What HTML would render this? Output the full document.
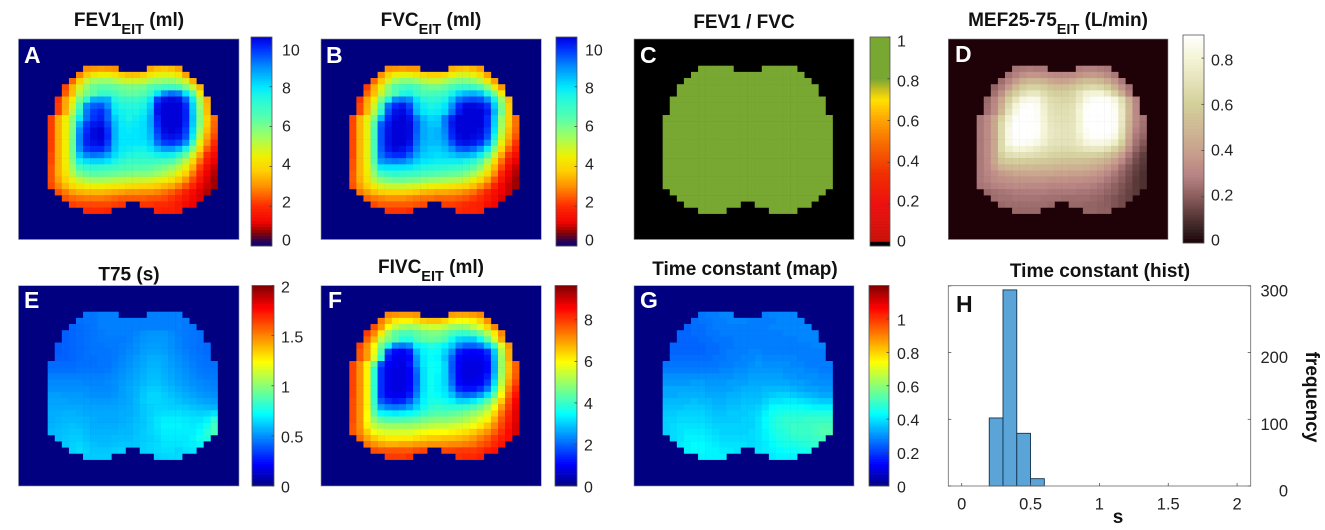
<!DOCTYPE html>
<html lang="en">
<head>
<meta charset="utf-8">
<title>EIT lung function maps</title>
<style>
html,body{margin:0;padding:0;background:#fff;width:1325px;height:530px;overflow:hidden}
svg{display:block;filter:blur(0.35px)}
text{font-family:"Liberation Sans",sans-serif;fill:#222}
.title{font-size:19px;font-weight:bold;fill:#111;text-anchor:middle}
.sub{font-size:14.5px}
.letter{font-size:23px;font-weight:bold;fill:#fff}
.tick{font-size:16px}
.hist-tick{font-size:16.5px}
</style>
</head>
<body>
<svg id="chart" xmlns="http://www.w3.org/2000/svg" width="1325" height="530" viewBox="0 0 1325 530">
  <rect width="1325" height="530" fill="#fff"/>
  <g id="panel-a"></g>
  <g id="panel-b"></g>
  <g id="panel-c"></g>
  <g id="panel-d"></g>
  <g id="panel-e"></g>
  <g id="panel-f"></g>
  <g id="panel-g"></g>
  <g id="panel-h"></g>

  <text class="title" x="129" y="26">FEV1<tspan class="sub" dy="8">EIT</tspan><tspan dy="-8"> (ml)</tspan></text>
  <text class="title" x="431" y="26">FVC<tspan class="sub" dy="8">EIT</tspan><tspan dy="-8"> (ml)</tspan></text>
  <text class="title" x="744" y="28">FEV1 / FVC</text>
  <text class="title" x="1058" y="26">MEF25-75<tspan class="sub" dy="8">EIT</tspan><tspan dy="-8"> (L/min)</tspan></text>
  <text class="title" x="129" y="280.5">T75 (s)</text>
  <text class="title" x="431" y="273">FIVC<tspan class="sub" dy="8">EIT</tspan><tspan dy="-8"> (ml)</tspan></text>
  <text class="title" x="745" y="275">Time constant (map)</text>
  <text class="title" x="1100" y="277">Time constant (hist)</text>

  <text class="letter" x="24" y="63">A</text>
  <text class="letter" x="326" y="63">B</text>
  <text class="letter" x="640" y="63">C</text>
  <text class="letter" x="955" y="62">D</text>
  <text class="letter" x="24" y="308">E</text>
  <text class="letter" x="328" y="308">F</text>
  <text class="letter" x="640" y="308">G</text>
  <text class="letter" x="956" y="312" style="fill:#111">H</text>

  <text class="title" x="1118" y="523">s</text>
  <text class="title" transform="translate(1306 397) rotate(90)">frequency</text>
</svg>

<script>
// Panel A: FEV1 (ml)
const fev1Values = [
[0,0,0,0,0,3,3.1,3.2,3.1,3,0,0,0,0,3.3,3.6,3.7,3.6,3.3,0,0,0,0,0],
[0,0,0,0,2.9,3.7,4.3,4.5,4.5,4.2,3.8,3.6,3.6,3.8,4.3,4.6,4.7,4.6,4.3,3.2,0,0,0,0],
[0,0,0,2.6,3.9,5,5.5,5.6,5.6,5.4,5,4.9,4.9,5,5.4,5.6,5.7,5.7,5.4,4.8,3.4,0,0,0],
[0,0,2.3,3.5,4.8,5.7,6.2,6.4,6.4,6.3,6.1,6,6,6.1,6.5,6.7,6.9,6.9,6.7,6,5,3.5,0,0],
[0,0,2.5,3.6,5.3,6,6.4,7,7,6.8,6.4,6.3,6.3,6.5,7,8,9,9.3,9.1,8,6.5,4.4,0,0],
[0,2.1,3.3,4.5,6,7.2,8.6,8.7,8.6,7.5,7.1,7,7,7.2,7.9,9.8,10.3,10.4,10.3,9.5,7.8,5.3,3.4,0],
[0,2.2,3.3,4.8,6.7,9,9.5,9.6,9,7.8,7.5,7.4,7.4,7.6,8.3,10.2,10.5,10.5,10.5,10,8.2,5.6,3.5,0],
[0,2.2,3.4,5.2,7.2,9.2,9.8,10,9.4,8,7.7,7.6,7.6,7.8,8.5,10.3,10.5,10.5,10.5,10.1,8.3,5.8,3.6,0],
[2.2,3.4,4.5,5.8,7.8,9.3,9.9,10.1,9.4,8.3,7.8,7.6,7.8,8,8.7,10.1,10.5,10.5,10.5,10.1,8.4,5.9,3.9,2.7],
[2.2,3.4,4.5,5.9,8.6,9.8,10.2,10.3,9.7,8.5,7.9,7.8,7.9,8.1,8.7,10,10.5,10.5,10.5,10,8.3,5.8,3.8,2.6],
[2.2,3.4,4.5,6,9,10,10.4,10.5,9.9,8.6,8,7.9,8,8.1,8.6,9.8,10.4,10.5,10.4,9.8,8.1,5.5,3.6,2.5],
[2.2,3.4,4.5,6.1,9.1,10.1,10.4,10.5,10,8.6,8,8,8,8.1,8.5,9.6,10.2,10.3,10.2,9.6,7.8,5.1,3.3,2.3],
[2.2,3.4,4.5,6.2,9.1,10.1,10.3,10.4,9.8,8.5,8,8,8,8,8.3,9.3,9.8,9.9,9.7,9,7,4.6,3,2],
[2.2,3.4,4.5,6.2,9,9.8,10,10,9.5,8.4,7.9,7.8,7.7,7.7,8,8.5,8.9,8.9,8.5,7.6,5.9,4,2.5,1.7],
[2.3,3.4,4.5,6.1,8.4,9.1,9.3,9.2,8.8,8.1,7.7,7.5,7.4,7.4,7.5,7.7,7.8,7.7,7.2,6.3,4.9,3.3,2,1.4],
[2.3,3.4,4.5,5.9,7.7,8.1,8.2,8.2,8,7.6,7.2,7,7,7,7,6.9,6.8,6.6,6.1,5.2,4,2.7,1.7,1.2],
[2.4,3.4,4.4,5.6,6.8,7.1,7.2,7.1,7,6.9,6.7,6.6,6.5,6.5,6.4,6.2,6,5.7,5.2,4.5,3.4,2.2,1.4,1],
[2.4,3.4,4.2,5.2,6,6.3,6.4,6.4,6.3,6.2,6.1,6,5.9,5.9,5.8,5.6,5.3,5,4.5,3.8,2.8,1.9,1.2,.9],
[2.4,3.2,3.9,4.6,5.1,5.4,5.5,5.5,5.4,5.3,5.2,5.1,5,5,4.9,4.7,4.5,4.2,3.7,3.1,2.3,1.6,1.1,.8],
[2.3,2.9,3.5,4,4.3,4.5,4.5,4.5,4.4,4.3,4.2,4.1,4,3.9,3.8,3.7,3.5,3.3,2.9,2.4,1.9,1.3,1,.8],
[0,2.4,2.8,3.2,3.4,3.5,3.5,3.5,3.4,3.3,3.2,3.1,3.1,3,3,2.9,2.7,2.5,2.2,1.8,1.4,1.1,.9,0],
[0,0,2.4,2.6,2.7,2.8,2.8,2.8,2.7,2.6,2.5,2.5,2.5,2.5,2.4,2.4,2.3,2.1,1.9,1.6,1.3,1.1,0,0],
[0,0,0,2.2,2.3,2.3,2.3,2.3,2.3,2.2,2.1,0,0,2.1,2.1,2,2,1.9,1.7,1.4,1.2,0,0,0],
[0,0,0,0,0,2,2,2,1.9,0,0,0,0,0,0,1.9,1.8,1.8,1.7,0,0,0,0,0]
];

// Panel B: FVC (ml)
const fvcValues = [
[0,0,0,0,0,3,3.1,3.2,3.1,3.1,0,0,0,0,3.4,3.6,3.7,3.5,3.2,0,0,0,0,0],
[0,0,0,0,3,3.9,4.5,4.6,4.6,4.3,4,3.8,3.8,4,4.5,4.8,4.8,4.6,4.1,3.2,0,0,0,0],
[0,0,0,2.6,3.7,4.8,5.5,5.8,5.8,5.6,5.2,5,5,5.3,5.7,5.9,5.9,5.7,5.2,4.3,3.2,0,0,0],
[0,0,2.2,3.4,4.6,5.8,6.5,6.8,6.9,6.7,6.3,6.1,6.1,6.3,6.7,7,7.1,7,6.6,5.8,4.4,3.1,0,0],
[0,0,2.6,3.6,5,6,6.6,7.5,7.6,7,6.7,6.7,6.8,7,7.6,8.2,8.5,8.6,8.4,7.5,6.1,4.4,0,0],
[0,2.1,3.3,4.5,6,7.5,9,9.2,9,8,7.4,7.2,7.3,7.6,8.4,9.3,9.6,9.7,9.6,9,7.7,5.6,3.6,0],
[0,2.3,3.4,4.9,6.8,9.3,10,10.2,9.7,8.4,7.8,7.6,7.7,8,9,10,10.4,10.4,10.3,9.9,8.3,6,3.8,0],
[0,2.3,3.5,5.3,7.3,9.6,10.3,10.4,10,8.6,8,7.8,7.9,8.2,9.3,10.2,10.5,10.5,10.5,10.2,8.6,6.1,3.9,0],
[2.3,3.5,4.6,6,8.5,10,10.4,10.5,10.3,9.3,8.5,8.2,8.3,9.2,10.1,10.5,10.5,10.5,10.5,10,8.3,5.6,3.9,2.7],
[2.3,3.5,4.6,6.5,9.5,10.2,10.5,10.5,10.4,9.5,8.7,8.4,8.4,9.2,10.2,10.5,10.5,10.5,10.5,10,8.2,5.5,3.8,2.7],
[2.3,3.5,4.6,6.7,9.6,10.3,10.5,10.5,10.4,9.5,8.7,8.5,8.6,9.1,10.1,10.5,10.5,10.5,10.4,9.8,8,5.3,3.6,2.6],
[2.3,3.5,4.6,6.7,9.6,10.3,10.5,10.5,10.4,9.4,8.7,8.5,8.6,9,10,10.4,10.5,10.4,10.3,9.6,7.6,5,3.4,2.4],
[2.3,3.5,4.6,6.7,9.6,10.3,10.5,10.5,10.3,9.3,8.6,8.5,8.5,8.8,9.6,10.2,10.3,10.2,9.9,9,6.9,4.6,3.1,2.1],
[2.3,3.5,4.6,6.7,9.5,10.2,10.4,10.3,10,9.1,8.5,8.3,8.3,8.5,9,9.5,9.6,9.4,8.9,7.8,5.9,4,2.6,1.8],
[2.3,3.5,4.6,6.6,9.3,9.8,10,10,9.5,8.8,8.3,8.2,8.1,8.2,8.4,8.6,8.6,8.4,7.8,6.7,5,3.3,2.1,1.5],
[2.4,3.5,4.6,6.5,8.9,9.1,9.2,9.1,8.8,8.3,8,7.9,7.8,7.8,7.8,7.8,7.6,7.3,6.6,5.5,4.1,2.7,1.7,1.2],
[2.4,3.5,4.5,6.1,7.9,8,8,8,7.9,7.7,7.5,7.4,7.3,7.2,7.1,7,6.8,6.4,5.8,4.8,3.5,2.3,1.4,1],
[2.5,3.5,4.4,5.7,6.8,7.1,7.2,7.1,7,6.9,6.7,6.6,6.5,6.4,6.3,6.2,5.9,5.5,4.9,4.1,3,1.9,1.2,.9],
[2.5,3.4,4.2,5.2,5.8,6.1,6.2,6.2,6.1,6,5.8,5.7,5.6,5.5,5.4,5.3,5,4.6,4,3.3,2.4,1.6,1.1,.8],
[2.4,3.2,3.8,4.4,4.8,5,5,5,4.9,4.8,4.7,4.5,4.4,4.3,4.2,4.1,3.9,3.6,3.1,2.6,1.9,1.3,1,.8],
[0,2.8,3.2,3.6,3.8,3.9,3.9,3.9,3.8,3.7,3.5,3.4,3.3,3.3,3.2,3.1,2.9,2.7,2.3,1.9,1.5,1.2,1,0],
[0,0,2.6,2.8,2.9,3,3,3,2.9,2.8,2.7,2.7,2.6,2.6,2.6,2.5,2.4,2.2,2,1.7,1.4,1.1,0,0],
[0,0,0,2.3,2.5,2.5,2.5,2.5,2.5,2.4,2.3,0,0,2.2,2.2,2.1,2,1.9,1.8,1.5,1.3,0,0,0],
[0,0,0,0,0,2.1,2.1,2.1,2,0,0,0,0,0,0,2,1.9,1.9,1.8,0,0,0,0,0]
];

// Panel C: FEV1 / FVC ratio
const ratioValues = [
[0,0,0,0,0,.9,.9,.9,.9,.9,0,0,0,0,.9,.9,.9,.9,.9,0,0,0,0,0],
[0,0,0,0,.9,.9,.9,.9,.9,.9,.9,.9,.9,.9,.9,.9,.9,.9,.9,.9,0,0,0,0],
[0,0,0,.9,.9,.9,.9,.9,.9,.9,.9,.9,.9,.9,.9,.9,.9,.9,.9,.9,.9,0,0,0],
[0,0,.9,.9,.9,.9,.9,.9,.9,.9,.9,.9,.9,.9,.9,.9,.9,.9,.9,.9,.9,.9,0,0],
[0,0,.9,.9,.9,.9,.9,.9,.9,.9,.9,.9,.9,.9,.9,.9,.9,.9,.9,.9,.9,.9,0,0],
[0,.9,.9,.9,.9,.9,.9,.9,.9,.9,.9,.9,.9,.9,.9,.9,.9,.9,.9,.9,.9,.9,.9,0],
[0,.9,.9,.9,.9,.9,.9,.9,.9,.9,.9,.9,.9,.9,.9,.9,.9,.9,.9,.9,.9,.9,.9,0],
[0,.9,.9,.9,.9,.9,.9,.9,.9,.9,.9,.9,.9,.9,.9,.9,.9,.9,.9,.9,.9,.9,.9,0],
[.9,.9,.9,.9,.9,.9,.9,.9,.9,.9,.9,.9,.9,.9,.9,.9,.9,.9,.9,.9,.9,.9,.9,.9],
[.9,.9,.9,.9,.9,.9,.9,.9,.9,.9,.9,.9,.9,.9,.9,.9,.9,.9,.9,.9,.9,.9,.9,.9],
[.9,.9,.9,.9,.9,.9,.9,.9,.9,.9,.9,.9,.9,.9,.9,.9,.9,.9,.9,.9,.9,.9,.9,.9],
[.9,.9,.9,.9,.9,.9,.9,.9,.9,.9,.9,.9,.9,.9,.9,.9,.9,.9,.9,.9,.9,.9,.9,.9],
[.9,.9,.9,.9,.9,.9,.9,.9,.9,.9,.9,.9,.9,.9,.9,.9,.9,.9,.9,.9,.9,.9,.9,.9],
[.9,.9,.9,.9,.9,.9,.9,.9,.9,.9,.9,.9,.9,.9,.9,.9,.9,.9,.9,.9,.9,.9,.9,.9],
[.9,.9,.9,.9,.9,.9,.9,.9,.9,.9,.9,.9,.9,.9,.9,.9,.9,.9,.9,.9,.9,.9,.9,.9],
[.9,.9,.9,.9,.9,.9,.9,.9,.9,.9,.9,.9,.9,.9,.9,.9,.9,.9,.9,.9,.9,.9,.9,.9],
[.9,.9,.9,.9,.9,.9,.9,.9,.9,.9,.9,.9,.9,.9,.9,.9,.9,.9,.9,.9,.9,.9,.9,.9],
[.9,.9,.9,.9,.9,.9,.9,.9,.9,.9,.9,.9,.9,.9,.9,.9,.9,.9,.9,.9,.9,.9,.9,.9],
[.9,.9,.9,.9,.9,.9,.9,.9,.9,.9,.9,.9,.9,.9,.9,.9,.9,.9,.9,.9,.9,.9,.9,.9],
[.9,.9,.9,.9,.9,.9,.9,.9,.9,.9,.9,.9,.9,.9,.9,.9,.9,.9,.9,.9,.9,.9,.9,.9],
[0,.9,.9,.9,.9,.9,.9,.9,.9,.9,.9,.9,.9,.9,.9,.9,.9,.9,.9,.9,.9,.9,.9,0],
[0,0,.9,.9,.9,.9,.9,.9,.9,.9,.9,.9,.9,.9,.9,.9,.9,.9,.9,.9,.9,.9,0,0],
[0,0,0,.9,.9,.9,.9,.9,.9,.9,.9,0,0,.9,.9,.9,.9,.9,.9,.9,.9,0,0,0],
[0,0,0,0,0,.9,.9,.9,.9,0,0,0,0,0,0,.9,.9,.9,.9,0,0,0,0,0]
];

// Panel D: MEF25-75 (L/min)
const mefValues = [
[0,0,0,0,0,.26,.27,.28,.27,.27,0,0,0,0,.28,.29,.29,.28,.27,0,0,0,0,0],
[0,0,0,0,.25,.29,.34,.36,.36,.34,.32,.31,.31,.32,.35,.37,.38,.36,.32,.27,0,0,0,0],
[0,0,0,.24,.3,.38,.46,.5,.5,.47,.43,.41,.41,.44,.49,.52,.52,.5,.44,.36,.27,0,0,0],
[0,0,.22,.28,.38,.5,.58,.62,.62,.59,.54,.53,.53,.55,.6,.64,.66,.64,.58,.47,.35,.26,0,0],
[0,0,.25,.34,.5,.6,.68,.73,.73,.67,.62,.6,.6,.63,.71,.78,.8,.8,.74,.62,.45,.29,0,0],
[0,.23,.3,.42,.6,.72,.82,.85,.84,.74,.67,.65,.64,.66,.74,.84,.88,.89,.88,.82,.68,.47,.3,0],
[0,.24,.31,.46,.66,.8,.88,.89,.87,.77,.69,.67,.67,.69,.78,.88,.9,.9,.9,.86,.72,.5,.31,0],
[0,.25,.32,.5,.71,.84,.9,.9,.88,.79,.71,.68,.68,.7,.8,.89,.9,.9,.9,.88,.74,.51,.31,0],
[.27,.32,.42,.62,.78,.88,.9,.9,.88,.8,.72,.7,.69,.71,.8,.89,.9,.9,.9,.88,.74,.5,.32,.26],
[.27,.32,.42,.65,.82,.9,.9,.9,.89,.81,.73,.71,.7,.72,.8,.89,.9,.9,.9,.88,.73,.48,.31,.25],
[.27,.32,.42,.66,.84,.9,.9,.9,.89,.81,.74,.72,.71,.72,.8,.88,.9,.9,.9,.87,.71,.46,.29,.24],
[.27,.32,.42,.66,.84,.89,.9,.9,.88,.8,.74,.72,.71,.72,.78,.86,.89,.89,.88,.84,.68,.43,.27,.22],
[.27,.32,.42,.66,.83,.88,.88,.87,.84,.78,.72,.71,.7,.71,.75,.81,.84,.84,.82,.76,.61,.39,.25,.19],
[.27,.32,.42,.65,.76,.8,.8,.78,.75,.71,.68,.67,.66,.67,.69,.72,.73,.73,.69,.62,.5,.33,.22,.16],
[.27,.32,.42,.61,.68,.7,.7,.69,.67,.65,.63,.62,.61,.61,.62,.62,.62,.6,.55,.49,.39,.27,.18,.13],
[.27,.32,.42,.55,.59,.6,.6,.59,.58,.57,.56,.55,.54,.54,.54,.53,.51,.49,.45,.39,.31,.23,.16,.12],
[.27,.31,.39,.47,.5,.51,.51,.51,.5,.5,.49,.48,.48,.47,.47,.46,.44,.41,.37,.32,.25,.19,.14,.11],
[.27,.3,.34,.38,.4,.42,.42,.43,.43,.42,.42,.41,.41,.4,.4,.39,.37,.35,.31,.27,.22,.17,.13,.1],
[.27,.29,.32,.34,.35,.36,.36,.36,.36,.36,.35,.35,.35,.34,.34,.33,.32,.3,.27,.24,.2,.16,.12,.1],
[.26,.27,.29,.3,.31,.32,.32,.31,.31,.31,.3,.3,.3,.3,.29,.29,.28,.26,.24,.21,.18,.15,.12,.1],
[0,.23,.25,.26,.27,.28,.28,.28,.28,.28,.27,.27,.27,.27,.26,.26,.25,.24,.22,.2,.17,.14,.12,0],
[0,0,.24,.25,.25,.26,.26,.26,.26,.25,.25,.25,.24,.24,.24,.24,.23,.22,.2,.18,.16,.14,0,0],
[0,0,0,.23,.24,.24,.24,.24,.24,.24,.23,0,0,.23,.23,.22,.22,.21,.2,.18,.16,0,0,0],
[0,0,0,0,0,.23,.23,.23,.23,0,0,0,0,0,0,.22,.22,.21,.21,0,0,0,0,0]
];

// Panel E: T75 (s)
const t75Values = [
[0,0,0,0,0,.45,.45,.47,.47,.47,0,0,0,0,.47,.47,.47,.47,.47,0,0,0,0,0],
[0,0,0,0,.44,.45,.45,.47,.47,.47,.47,.47,.47,.47,.47,.47,.47,.47,.47,.46,0,0,0,0],
[0,0,0,.42,.43,.44,.45,.47,.47,.47,.47,.47,.47,.47,.47,.47,.47,.47,.47,.46,.45,0,0,0],
[0,0,.41,.42,.43,.44,.45,.46,.47,.47,.47,.47,.48,.5,.51,.51,.51,.49,.47,.46,.45,.44,0,0],
[0,0,.41,.42,.43,.44,.45,.46,.46,.46,.46,.47,.49,.51,.52,.52,.52,.5,.48,.46,.45,.44,0,0],
[0,.4,.41,.42,.43,.44,.45,.45,.46,.46,.47,.48,.5,.52,.53,.53,.52,.5,.48,.46,.45,.44,.43,0],
[0,.4,.41,.42,.43,.44,.45,.45,.45,.46,.47,.49,.5,.53,.54,.54,.53,.51,.49,.47,.45,.44,.43,0],
[0,.41,.41,.42,.43,.44,.44,.45,.45,.46,.48,.5,.52,.54,.56,.56,.55,.52,.5,.48,.46,.45,.44,0],
[.43,.43,.43,.43,.44,.44,.44,.45,.45,.47,.49,.51,.53,.55,.57,.57,.55,.53,.51,.49,.47,.45,.44,.44],
[.44,.44,.44,.44,.45,.45,.45,.45,.46,.48,.5,.52,.54,.56,.58,.58,.56,.54,.52,.5,.48,.46,.45,.45],
[.47,.47,.47,.47,.47,.47,.47,.47,.48,.49,.51,.53,.55,.57,.59,.59,.57,.55,.53,.51,.49,.47,.46,.46],
[.49,.49,.49,.49,.49,.48,.48,.48,.49,.5,.52,.54,.56,.58,.6,.6,.58,.56,.54,.52,.5,.49,.48,.47],
[.5,.5,.5,.5,.5,.5,.49,.49,.49,.5,.53,.55,.57,.6,.62,.62,.6,.58,.56,.54,.52,.5,.49,.48],
[.53,.53,.52,.52,.52,.51,.5,.5,.5,.51,.53,.55,.57,.61,.64,.64,.62,.6,.58,.56,.54,.52,.51,.5],
[.54,.54,.54,.53,.53,.53,.52,.52,.52,.53,.54,.55,.58,.62,.64,.64,.63,.62,.6,.58,.57,.55,.54,.53],
[.55,.55,.55,.55,.55,.54,.54,.54,.54,.54,.55,.56,.58,.61,.63,.64,.64,.63,.63,.62,.6,.59,.58,.57],
[.56,.56,.57,.57,.56,.55,.55,.55,.55,.55,.56,.56,.58,.61,.63,.65,.66,.66,.66,.65,.64,.63,.64,.67],
[.56,.57,.58,.58,.58,.57,.56,.55,.55,.55,.56,.57,.59,.61,.64,.67,.69,.69,.69,.68,.67,.67,.7,.8],
[.57,.58,.59,.6,.59,.58,.56,.56,.56,.56,.57,.58,.6,.61,.64,.67,.7,.7,.7,.69,.68,.7,.75,.85],
[.58,.59,.6,.61,.61,.59,.57,.57,.57,.57,.58,.58,.6,.62,.64,.66,.69,.69,.69,.69,.69,.72,.8,.85],
[0,.59,.61,.62,.62,.6,.58,.58,.58,.59,.59,.59,.61,.62,.63,.65,.68,.68,.68,.68,.7,.75,.78,0],
[0,0,.61,.63,.64,.62,.6,.59,.59,.6,.61,.61,.61,.63,.64,.65,.67,.67,.67,.68,.69,.71,0,0],
[0,0,0,.63,.65,.63,.61,.61,.61,.62,.63,0,0,.63,.64,.65,.66,.66,.64,.66,.67,0,0,0],
[0,0,0,0,0,.62,.62,.62,.62,0,0,0,0,0,0,.63,.64,.65,.65,0,0,0,0,0]
];

// Panel F: FIVC (ml)
const fivcValues = [
[0,0,0,0,0,7.2,7.1,7,7,7.1,0,0,0,0,7,6.9,6.9,7,7.2,0,0,0,0,0],
[0,0,0,0,7.3,6.7,6.2,6.1,6.1,6.3,6.5,6.6,6.6,6.4,6.1,5.9,5.9,6.1,6.4,7.1,0,0,0,0],
[0,0,0,7.8,7,6,5.4,5.1,5,5.1,5.4,5.5,5.5,5.3,5,4.9,5,5.3,5.7,6.4,7.2,0,0,0],
[0,0,8,7.2,6.2,5,4.4,4.2,4.2,4.4,4.6,4.7,4.7,4.5,4.2,4,4,4.2,4.6,5.2,6.2,7.2,0,0],
[0,0,7.6,6.7,5.3,4.7,4.3,3.8,3.8,4.2,4.4,4.5,4.4,4.2,3.6,3.1,3,3,3.5,4.4,5.6,6.9,0,0],
[0,7.9,7.1,6,4.6,3.7,2.4,2.2,2.4,3.4,3.6,3.8,3.7,3.4,3,2.3,2,2,2.2,3,4,5.6,7,0],
[0,7.7,7,5.8,4.2,1.7,1.1,1,1.3,2.8,3.4,3.6,3.5,3.1,2.4,1.3,1.1,1,1.1,1.5,3,5.2,6.8,0],
[0,7.7,7,5.6,3.9,1.3,.9,.9,1.1,2.5,3.3,3.5,3.4,2.9,2,1.1,.9,.9,.9,1.2,2.8,5,6.8,0],
[7.9,7.1,6.1,4.4,1.8,1,.9,.8,1.2,2.4,3.3,3.6,3.5,3.1,1.9,1,.8,.8,.8,1.1,2.7,5,6.6,7.6],
[7.9,7.1,6.1,3.9,1.5,.9,.8,.8,1,2.1,3.2,3.6,3.5,3.1,1.9,1,.8,.8,.8,1.1,2.7,5,6.6,7.6],
[7.9,7.1,6.1,3.9,1.5,.9,.8,.8,1,2,3.2,3.6,3.4,3.1,2,1,.8,.8,.9,1.3,2.9,5.1,6.7,7.7],
[7.9,7.1,6.1,3.9,1.5,.9,.8,.8,1,2,3.2,3.6,3.4,3.1,2.1,1.1,.9,.9,1,1.6,3.2,5.3,6.9,7.9],
[7.9,7.1,6.1,3.9,1.5,.9,.8,.8,1.1,2.1,3.2,3.6,3.4,3.2,2.4,1.4,1.2,1.2,1.5,2.2,3.7,5.6,7.2,8.2],
[7.9,7.1,6.1,3.9,1.5,1,.9,.9,1.3,2.3,3.3,3.6,3.5,3.3,2.9,2.2,2,2.1,2.5,3.2,4.4,6,7.5,8.4],
[7.8,7.1,6.1,4,1.9,1.5,1.3,1.4,1.9,2.7,3.4,3.7,3.7,3.6,3.4,3.1,3.1,3.3,3.7,4.3,5.2,6.5,7.8,8.6],
[7.8,7.1,6.1,4.1,2.6,2.3,2.2,2.3,2.6,3.1,3.6,3.9,4,3.9,3.9,3.9,4,4.2,4.5,5,5.9,7,8,8.7],
[7.8,7.1,6,4.4,3.5,3.4,3.3,3.4,3.5,3.7,4,4.2,4.3,4.3,4.4,4.5,4.7,4.9,5.2,5.6,6.4,7.4,8.2,8.8],
[7.8,7.1,6,4.9,4.4,4.2,4.2,4.2,4.3,4.4,4.6,4.7,4.8,4.8,4.9,5,5.2,5.4,5.7,6.1,6.8,7.7,8.3,8.8],
[7.7,7.1,6.1,5.4,5.1,5,5,5,5,5.1,5.2,5.3,5.4,5.4,5.5,5.6,5.7,5.9,6.2,6.6,7.2,7.9,8.4,8.9],
[7.7,7.2,6.5,5.9,5.7,5.6,5.6,5.6,5.6,5.8,5.9,6,6,6,6.1,6.2,6.3,6.5,6.8,7.1,7.6,8.1,8.5,8.9],
[0,7.5,6.9,6.5,6.3,6.2,6.2,6.2,6.2,6.3,6.4,6.5,6.5,6.6,6.6,6.7,6.8,7,7.3,7.6,8,8.3,8.5,0],
[0,0,7.4,7.1,6.9,6.8,6.8,6.9,6.9,7,7,7.1,7.1,7.1,7.2,7.2,7.3,7.4,7.7,7.9,8.2,8.4,0,0],
[0,0,0,7.8,7.7,7.7,7.7,7.7,7.7,7.8,7.9,0,0,7.9,7.9,8,8,8,8.1,8.3,8.4,0,0,0],
[0,0,0,0,0,8,8,8,8.1,0,0,0,0,0,0,8.1,8.2,8.2,8.3,0,0,0,0,0]
];

// Panel G: time constant (map)
const tauValues = [
[0,0,0,0,0,.27,.28,.28,.29,.29,0,0,0,0,.28,.29,.29,.29,.29,0,0,0,0,0],
[0,0,0,0,.26,.27,.27,.28,.28,.29,.29,.29,.28,.28,.28,.28,.29,.29,.29,.29,0,0,0,0],
[0,0,0,.25,.26,.26,.27,.28,.28,.28,.28,.28,.28,.28,.28,.29,.29,.29,.29,.29,.29,0,0,0],
[0,0,.25,.25,.26,.26,.27,.27,.28,.28,.28,.28,.28,.28,.28,.28,.28,.29,.29,.29,.29,.29,0,0],
[0,0,.25,.25,.25,.26,.26,.27,.27,.27,.28,.28,.28,.28,.28,.28,.28,.28,.28,.29,.29,.29,0,0],
[0,.25,.25,.25,.25,.25,.26,.26,.27,.27,.28,.28,.28,.28,.28,.28,.28,.28,.28,.28,.28,.29,.29,0],
[0,.25,.25,.25,.25,.25,.26,.26,.27,.28,.28,.28,.29,.29,.28,.28,.28,.28,.28,.28,.28,.28,.28,0],
[0,.26,.26,.26,.26,.26,.26,.27,.27,.28,.28,.29,.29,.3,.29,.29,.29,.29,.29,.28,.28,.28,.28,0],
[.27,.27,.27,.27,.27,.27,.27,.27,.28,.28,.29,.29,.3,.31,.3,.3,.3,.3,.29,.29,.28,.28,.28,.28],
[.28,.28,.28,.28,.28,.28,.28,.28,.29,.29,.3,.3,.31,.31,.31,.31,.31,.3,.3,.3,.29,.29,.28,.28],
[.3,.3,.3,.3,.3,.3,.3,.3,.3,.3,.31,.31,.32,.32,.32,.32,.32,.31,.31,.3,.3,.3,.29,.29],
[.31,.31,.31,.31,.32,.32,.31,.31,.31,.32,.32,.32,.33,.33,.33,.33,.33,.33,.32,.32,.31,.3,.3,.3],
[.33,.33,.33,.33,.33,.33,.32,.32,.32,.32,.33,.34,.34,.34,.35,.35,.35,.35,.34,.33,.32,.32,.31,.31],
[.33,.33,.34,.34,.34,.34,.33,.33,.33,.34,.34,.35,.35,.35,.36,.37,.38,.38,.37,.36,.35,.34,.33,.33],
[.35,.35,.35,.35,.36,.35,.35,.34,.34,.35,.35,.36,.36,.36,.38,.4,.4,.41,.41,.4,.39,.38,.37,.37],
[.36,.36,.36,.37,.37,.37,.36,.35,.35,.36,.36,.37,.37,.38,.4,.43,.44,.44,.44,.44,.43,.42,.42,.42],
[.37,.37,.38,.38,.38,.38,.37,.36,.36,.37,.37,.37,.38,.39,.42,.45,.46,.47,.47,.47,.47,.47,.47,.47],
[.38,.38,.39,.39,.39,.39,.38,.37,.37,.37,.37,.38,.38,.4,.43,.46,.48,.49,.49,.49,.5,.5,.5,.5],
[.38,.39,.4,.4,.4,.4,.39,.38,.38,.38,.38,.38,.38,.4,.43,.46,.48,.49,.5,.5,.5,.51,.52,.52],
[.38,.39,.4,.41,.41,.41,.4,.39,.38,.38,.38,.38,.39,.4,.42,.45,.47,.48,.5,.5,.5,.51,.53,.53],
[0,.39,.4,.42,.42,.42,.41,.4,.39,.39,.39,.39,.39,.4,.42,.44,.46,.47,.48,.49,.49,.5,.51,0],
[0,0,.41,.42,.43,.43,.42,.41,.4,.4,.4,.4,.39,.4,.41,.43,.45,.46,.46,.47,.48,.49,0,0],
[0,0,0,.42,.43,.43,.42,.42,.41,.41,.4,0,0,.4,.41,.42,.43,.44,.44,.45,.46,0,0,0],
[0,0,0,0,0,.42,.42,.42,.42,0,0,0,0,0,0,.41,.42,.42,.42,0,0,0,0,0]
];

// Panel H: histogram
const binStarts = [0.2, 0.3, 0.4, 0.5];
const binCounts = [102, 294, 79, 11];
const histXTicks = [0, 0.5, 1, 1.5, 2];
const histYTicks = [0, 100, 200, 300];

// Colour bar tick values
const ticksFev1 = [0, 2, 4, 6, 8, 10];
const ticksFvc = [0, 2, 4, 6, 8, 10];
const ticksRatio = [0, 0.2, 0.4, 0.6, 0.8, 1];
const ticksMef = [0, 0.2, 0.4, 0.6, 0.8];
const ticksT75 = [0, 0.5, 1, 1.5, 2];
const ticksFivc = [0, 2, 4, 6, 8];
const ticksTau = [0, 0.2, 0.4, 0.6, 0.8, 1];

// Colour maps: fraction of range and colour
const jetFrac = [0, .11, .36, .62, .89, 1];
const jetCols = ['#000080', '#0000ff', '#00ffff', '#ffff00', '#ff0000', '#800000'];
const revFrac = [0, .024, .067, .114, .19, .286, .362, .43, .524, .62, .714, .762, .857, .952, 1];
const revCols = ['#00007f', '#2a0050', '#8a0000', '#f00000', '#ff2800', '#ff9000', '#ffd000', '#f0f000', '#a0ff60', '#50ffb0', '#20f8e0', '#00e8ff', '#0090ff', '#0028ff', '#0000d8'];
const ratioFrac = [0, .018, .022, .2, .35, .5, .6, .7, .75, .8, 1];
const ratioCols = ['#000000', '#000000', '#c81008', '#ee1010', '#f03000', '#f87000', '#ffa000', '#ffe000', '#c8c020', '#78a832', '#78a832'];
const pinkFrac = [0, .06, .22, .33, .44, .67, .89, 1];
const pinkCols = ['#1a0006', '#321c1c', '#8a5c5c', '#b88484', '#c8a08c', '#d4d09c', '#f4f4d6', '#ffffff'];

const SVGNS = 'http://www.w3.org/2000/svg';
const CELL_W = 7.08, CELL_H = 6.165;

function hexRgb(h) {
  return [parseInt(h.slice(1, 3), 16), parseInt(h.slice(3, 5), 16), parseInt(h.slice(5, 7), 16)];
}
function colourAt(fracs, cols, f) {
  f = Math.max(0, Math.min(1, f));
  for (let i = 1; i < fracs.length; i++) {
    if (f <= fracs[i]) {
      const t = (f - fracs[i - 1]) / Math.max(1e-6, fracs[i] - fracs[i - 1]);
      const a = hexRgb(cols[i - 1]), b = hexRgb(cols[i]);
      return 'rgb(' + a.map((v, k) => Math.round(v + (b[k] - v) * t)).join(',') + ')';
    }
  }
  return cols[cols.length - 1];
}
function make(tag, attrs) {
  const el = document.createElementNS(SVGNS, tag);
  for (const k in attrs) el.setAttribute(k, attrs[k]);
  return el;
}

function drawPanel(p) {
  const g = document.getElementById(p.id);
  const back = make('rect', {x: p.ix, y: p.iy, width: p.iw, height: p.ih, fill: p.bg, stroke: '#8a8f98', 'stroke-width': .6});
  
  
  g.appendChild(back);

  const xAxis = c => p.lungX + c * CELL_W;
  const yAxis = r => p.lungY + r * CELL_H;
  p.values.forEach((row, r) => row.forEach((v, c) => {
    if (v === 0) return;
    const cell = make('rect', {x: xAxis(c), y: yAxis(r), width: CELL_W + .25, height: CELL_H + .25, fill: colourAt(p.fracs, p.cols, v / p.vmax)});
    
    
    g.appendChild(cell);
  }));

  const strips = 140;
  for (let i = 0; i < strips; i++) {
    const h = p.bh / strips;
    const strip = make('rect', {x: p.bx, y: p.by + p.bh - (i + 1) * h, width: p.bw, height: h + .3, fill: colourAt(p.fracs, p.cols, (i + .5) / strips)});
    
    
    g.appendChild(strip);
  }
  const frame = make('rect', {x: p.bx, y: p.by, width: p.bw, height: p.bh, fill: 'none', stroke: '#555', 'stroke-width': .8});
  
  
  g.appendChild(frame);

  p.ticks.forEach(t => {
    const ty = p.by + p.bh - t / p.vmax * p.bh;
    const mark = make('line', {x1: p.bx + p.bw - 2.5, x2: p.bx + p.bw, y1: ty, y2: ty, stroke: '#444', 'stroke-width': .8});
    
    
    g.appendChild(mark);
    const label = make('text', {class: 'tick', x: p.lx, y: p.ly0 - t * p.lk + 5.5});
    
    
    label.textContent = String(t);
    g.appendChild(label);
  });
}

const panels = [
  {id: 'panel-a', values: fev1Values, vmax: 10.5, fracs: revFrac, cols: revCols, bg: '#00007f', ticks: ticksFev1,
   ix: 18.5, iy: 39, iw: 220.5, ih: 200.5, lungX: 47.67, lungY: 65.7, bx: 251, by: 37, bw: 21, bh: 209, lx: 282, ly0: 240, lk: 19},
  {id: 'panel-b', values: fvcValues, vmax: 10.5, fracs: revFrac, cols: revCols, bg: '#00007f', ticks: ticksFvc,
   ix: 321, iy: 39, iw: 220.3, ih: 200.5, lungX: 349.3, lungY: 65.7, bx: 556, by: 37, bw: 21, bh: 209, lx: 585, ly0: 240, lk: 19},
  {id: 'panel-c', values: ratioValues, vmax: 1, fracs: ratioFrac, cols: ratioCols, bg: '#000000', ticks: ticksRatio,
   ix: 634, iy: 39, iw: 220, ih: 200.5, lungX: 662.67, lungY: 65.7, bx: 870, by: 37, bw: 20, bh: 209, lx: 897, ly0: 241, lk: 200},
  {id: 'panel-d', values: mefValues, vmax: .9, fracs: pinkFrac, cols: pinkCols, bg: '#1f0208', ticks: ticksMef,
   ix: 948.3, iy: 39, iw: 219.7, ih: 200.5, lungX: 976.67, lungY: 65.7, bx: 1183, by: 35, bw: 21, bh: 208, lx: 1211, ly0: 240, lk: 225},
  {id: 'panel-e', values: t75Values, vmax: 2, fracs: jetFrac, cols: jetCols, bg: '#000080', ticks: ticksT75,
   ix: 18.5, iy: 285.7, iw: 220.5, ih: 200.3, lungX: 47.67, lungY: 311.7, bx: 252, by: 285.5, bw: 22, bh: 200.5, lx: 281, ly0: 487, lk: 100},
  {id: 'panel-f', values: fivcValues, vmax: 9.65, fracs: jetFrac, cols: jetCols, bg: '#000080', ticks: ticksFivc,
   ix: 321, iy: 285.7, iw: 220.3, ih: 200.3, lungX: 349.3, lungY: 311.7, bx: 555, by: 285.5, bw: 22, bh: 200.5, lx: 584, ly0: 487, lk: 20.9},
  {id: 'panel-g', values: tauValues, vmax: 1.2, fracs: jetFrac, cols: jetCols, bg: '#000080', ticks: ticksTau,
   ix: 634, iy: 285.7, iw: 220, ih: 200.3, lungX: 662.67, lungY: 311.7, bx: 869, by: 285.5, bw: 20, bh: 200.5, lx: 897, ly0: 487, lk: 167}
];
panels.forEach(drawPanel);

function drawHistogram() {
  const g = document.getElementById('panel-h');
  const left = 948.3, right = 1250.7, top = 285.7, bottom = 486;
  const xAxis = v => 961.7 + 137.7 * v;
  const yAxis = v => bottom - .667 * v;
  const binWidth = binStarts[1] - binStarts[0];

  binStarts.forEach((s, i) => {
    const bar = make('rect', {x: xAxis(s), y: yAxis(binCounts[i]), width: xAxis(s + binWidth) - xAxis(s), height: bottom - yAxis(binCounts[i]), fill: '#5ba4d8', stroke: '#12344e', 'stroke-width': .9});
    
    
    g.appendChild(bar);
  });

  const box = make('rect', {x: left, y: top, width: right - left, height: bottom - top, fill: 'none', stroke: '#666', 'stroke-width': .8});
  
  
  g.appendChild(box);

  histXTicks.forEach(t => {
    const mark = make('line', {x1: xAxis(t), x2: xAxis(t), y1: bottom, y2: bottom - 3, stroke: '#555', 'stroke-width': .8});
    
    
    g.appendChild(mark);
    const label = make('text', {class: 'hist-tick', x: xAxis(t), y: 509.5, 'text-anchor': 'middle'});
    
    
    label.textContent = String(t);
    g.appendChild(label);
  });
  histYTicks.forEach(t => {
    [[left, left + 3], [right, right - 3]].forEach(pair => {
      const mark = make('line', {x1: pair[0], x2: pair[1], y1: yAxis(t), y2: yAxis(t), stroke: '#555', 'stroke-width': .8});
      
      
      g.appendChild(mark);
    });
    const label = make('text', {class: 'hist-tick', x: 1288, y: yAxis(t) + 10.5, 'text-anchor': 'end'});
    
    
    label.textContent = String(t);
    g.appendChild(label);
  });
}
drawHistogram();
</script>
</body>
</html>
